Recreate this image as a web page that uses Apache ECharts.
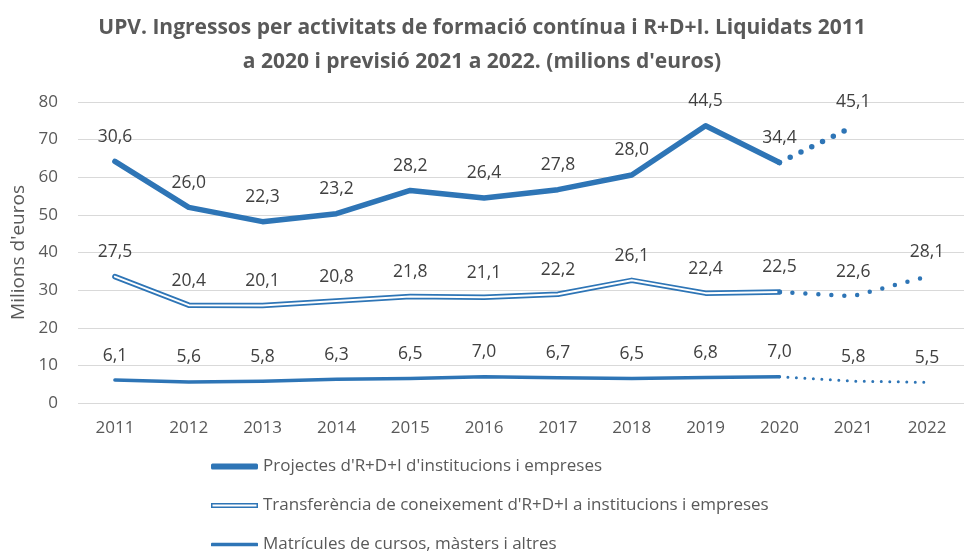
<!DOCTYPE html>
<html>
<head>
<meta charset="utf-8">
<script src="https://cdn.jsdelivr.net/npm/echarts@6/dist/echarts.min.js"></script>
<style>
  html, body { margin: 0; padding: 0; background: #ffffff; }
  #chart { width: 964px; height: 554px; }
</style>
</head>
<body>
<div id="chart"></div>
<script>
// dades (milions d'euros)
const years = ["2011", "2012", "2013", "2014", "2015", "2016", "2017", "2018", "2019", "2020", "2021", "2022"];
const matricules = [6.1, 5.6, 5.8, 6.3, 6.5, 7.0, 6.7, 6.5, 6.8, 7.0, 5.8, 5.5];
const transferencia = [27.5, 20.4, 20.1, 20.8, 21.8, 21.1, 22.2, 26.1, 22.4, 22.5, 22.6, 28.1];
const projectes = [30.6, 26.0, 22.3, 23.2, 28.2, 26.4, 27.8, 28.0, 44.5, 34.4, 45.1, null];
const yTicks = [0, 10, 20, 30, 40, 50, 60, 70, 80];
const lastReal = 9; // 2020: darrer any liquidat

const nomP = "Projectes d'R+D+I d'institucions i empreses";
const nomT = "Transferència de coneixement d'R+D+I a institucions i empreses";
const nomM = "Matrícules de cursos, màsters i altres";

const blue = "#2e75b6";
const grey = "#595959";
const font = "Open Sans";

// linies apilades
const cumM = matricules.slice();
const cumT = transferencia.map((v, i) => v + matricules[i]);
const cumP = projectes.map((v, i) => (v == null ? null : v + cumT[i]));

const solid = arr => arr.map((v, i) => (i <= lastReal ? v : null));
const forecast = arr => arr.map((v, i) => (i >= lastReal ? v : null));
const fmt = v => v.toFixed(1).replace(".", ",");

function labelFor(raw, onlyForecast) {
  return {
    show: true,
    position: "top",
    distance: 15,
    color: "#404040",
    fontFamily: font,
    fontSize: 17.5,
    formatter: p => {
      if (onlyForecast && p.dataIndex <= lastReal) return "";
      const v = raw[p.dataIndex];
      return v == null ? "" : fmt(v);
    }
  };
}

function line(name, data, width, dash, label, color) {
  return {
    name: name,
    type: "line",
    data: data,
    symbol: "circle",
    symbolSize: 1,
    itemStyle: { color: "rgba(0,0,0,0)" },
    lineStyle: {
      color: color || blue,
      width: width,
      type: dash || "solid",
      cap: "round",
      join: "round"
    },
    label: label || { show: false },
    emphasis: { disabled: true },
    silent: true,
    connectNulls: false
  };
}

function legendRow(name, icon, top, h) {
  return {
    data: [{ name: name, icon: icon, itemStyle: { color: blue, borderWidth: 0, opacity: 1 } }],
    left: 211,
    top: top,
    padding: 0,
    itemWidth: 47,
    itemHeight: h,
    selectedMode: false,
    textStyle: { color: grey, fontFamily: font, fontSize: 17 }
  };
}

const chart = echarts.init(document.getElementById("chart"));
chart.setOption({
  animation: false,
  backgroundColor: "#ffffff",
  title: {
    text: "UPV. Ingressos per activitats de formació contínua i R+D+I. Liquidats 2011\na 2020 i previsió 2021 a 2022. (milions d'euros)",
    left: "center",
    top: 6,
    textStyle: {
      color: grey,
      fontFamily: font,
      fontWeight: "bold",
      fontSize: 21,
      lineHeight: 34
    }
  },
  legend: [
    legendRow(nomP, "roundRect", 458, 6),
    legendRow(nomT, "path://M0,0H47V5H0Z M1.5,1.6V3.4H45.5V1.6Z", 497, 5),
    legendRow(nomM, "roundRect", 536, 3.5)
  ],
  grid: { left: 78, right: -10, top: 102, bottom: 151 },
  xAxis: {
    type: "category",
    data: years,
    boundaryGap: true,
    axisLine: { show: false },
    axisTick: { show: false },
    axisLabel: { color: grey, fontFamily: font, fontSize: 17, margin: 17 }
  },
  yAxis: {
    type: "value",
    min: yTicks[0],
    max: yTicks[yTicks.length - 1],
    interval: yTicks[1] - yTicks[0],
    name: "Milions d'euros",
    nameLocation: "middle",
    nameGap: 39,
    nameTextStyle: { color: grey, fontFamily: font, fontSize: 19 },
    axisLine: { show: false },
    axisTick: { show: false },
    axisLabel: { color: grey, fontFamily: font, fontSize: 17, margin: 20 },
    splitLine: { lineStyle: { color: "#d9d9d9", width: 1 } }
  },
  series: [
    line(nomM, solid(cumM), 3.5, null, labelFor(matricules, false)),
    line(nomM, forecast(cumM), 3, [0, 8.5], labelFor(matricules, true)),
    line(nomT, solid(cumT), 5.5, null, labelFor(transferencia, false)),
    line(nomT, solid(cumT), 2, null, null, "#ffffff"),
    line(nomT, forecast(cumT), 4.5, [0, 13], labelFor(transferencia, true)),
    line(nomP, solid(cumP), 5.5, null, labelFor(projectes, false)),
    line(nomP, forecast(cumP), 5.5, [0, 12], labelFor(projectes, true))
  ]
});
</script>
</body>
</html>
